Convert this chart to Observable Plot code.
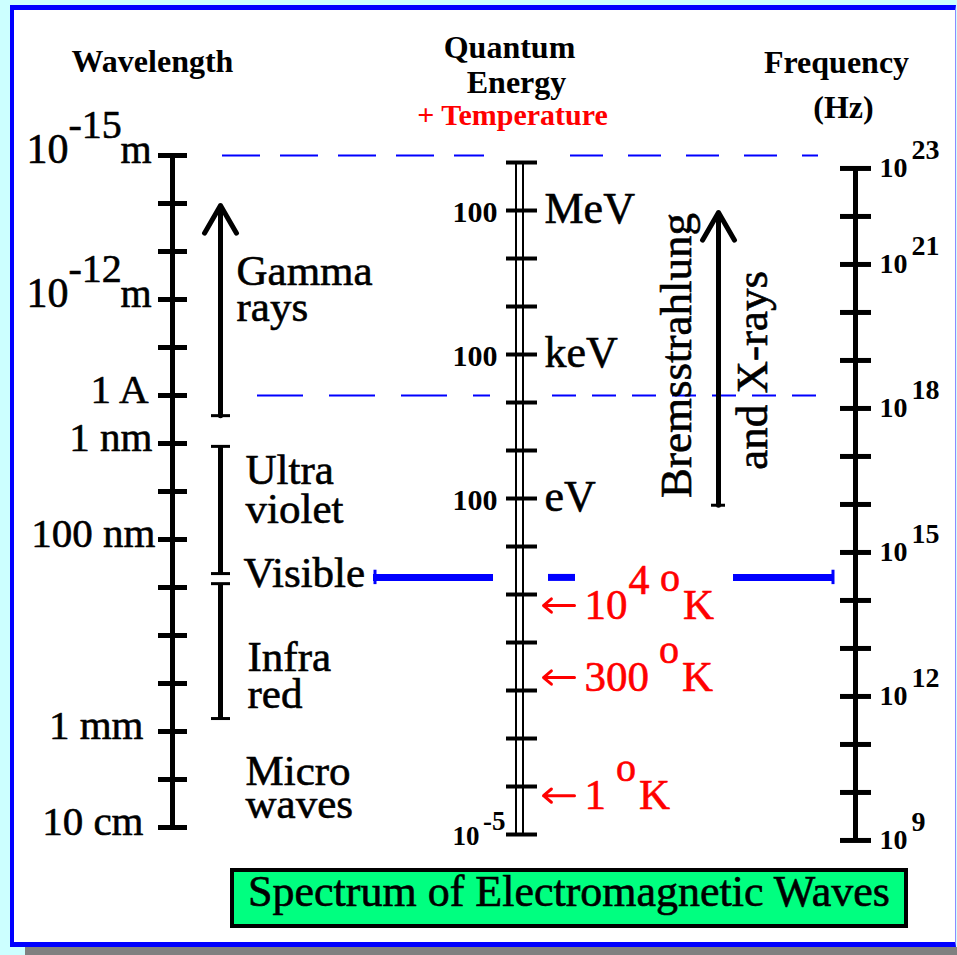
<!DOCTYPE html>
<html><head><meta charset="utf-8">
<script src="https://cdn.jsdelivr.net/npm/d3@7"></script>
<script src="https://cdn.jsdelivr.net/npm/@observablehq/plot@0.6"></script>
<style>
html,body{margin:0;padding:0;background:#ccffff;width:957px;height:955px;overflow:hidden;font-family:"Liberation Serif",serif}
#frame{position:absolute;left:10px;top:5px;width:941px;height:932px;background:#fff;border-top:5px solid #0000ff;border-left:4px solid #0000ff;border-bottom:5px solid #0000ff;border-right:1px solid #8c8cff}
#shadow{position:absolute;left:25px;top:947px;width:932px;height:8px;background:#808080}
#chart{position:absolute;left:0;top:0}
#caption{position:absolute;left:230px;top:868px;width:678px;height:60px;box-sizing:border-box;border:4px solid #000;background:#00ff80;font-size:44px;line-height:40px;text-align:center;color:#000;white-space:nowrap;-webkit-text-stroke:0.6px #000}
</style></head><body>
<div id="frame"></div><div id="shadow"></div><div id="chart"></div>
<div id="caption">Spectrum of Electromagnetic Waves</div>
<script>
// ---------------- data (log10 exponents) ----------------
const waveExp = [-15,-14,-13,-12,-11,-10,-9,-8,-7,-6,-5,-4,-3,-2,-1];      // log10(wavelength / m)
const waveLabelExp = [-10, -9, -7, -3, -1];
const waveLabelText = ["1 A", "1 nm", "100 nm", "1 mm", "10 cm"];
const wavePowerExp = [-15, -12];
const wavePowerSup = ["-15", "-12"];

const energyExp = [9,8,7,6,5,4,3,2,1,0,-1,-2,-3,-4,-5];                  // log10(E / eV)
const energyLabelExp = [8, 5, 2];
const energyLabelUnit = ["MeV", "keV", "eV"];
const energyBottomExp = [-5];

const freqExp = [23,22,21,20,19,18,17,16,15,14,13,12,11,10,9];           // log10(f / Hz)
const freqLabelExp = [23, 21, 18, 15, 12, 9];

const tempEnergyExp = [-0.23, -1.73, -4.19];                             // where the temperature arrows point
const tempValue = ["10", "300", "1"];
const tempPower = ["4", "", ""];

const bandLabel = ["Gamma\nrays", "Ultra\nviolet", "Visible", "Infra\nred", "Micro\nwaves"];
const bandLabelExp = [-11.56, -7.35, -6.02, -3.5, -1.19];                // baseline of last line
const gammaExp = [-9.58, -13.96];          // bar bottom, arrow tip
const barFrom = [-8.94, -6.08];            // ultraviolet, infrared
const barTo = [-6.29, -3.27];
const visibleExp = -6.21;
const guideExp = [-15, -10];
const bremsEnergyExp = [1.86, 7.96];       // bremsstrahlung arrow (bottom, tip)

// ---------------- layout ----------------
const WX = 172, EX = 519, FX = 855, BARX = 220, BREMX = 718;
const eToV = e => -5.854 - e;   // energy exponent -> common vertical position
const fToV = f => 8.27 - f;     // frequency exponent -> common vertical position
const BLUE = "#0000ff", RED = "#ff0000";
const bandX = [236, 245, 243, 247, 245];
const bandLH = [0.82, 0.9, 1, 0.86, 0.78];
const waveLabelEnd = [148, 152, 155, 143, 143];
const heavy = c => ({fill: c, stroke: c, strokeWidth: 0.6, paintOrder: "stroke"});

const header = (t, x, base, o = {}) => Plot.text([t], {x, frameAnchor: "top", dy: base, lineAnchor: "bottom",
  text: d => d, fontWeight: "bold", fontSize: 32, textAnchor: "middle", fill: "black", ...o});

const tW = 21.5; // digit advance at 43px
const tempX = i => 584;
const tempPowX = i => 584 + tempValue[i].length * tW + 1;
const tempOX = i => 584 + tempValue[i].length * tW + (tempPower[i] ? tW + 1 : 0) + 10;
const tempKX = i => tempOX(i) + 23;
const idx = tempValue.map((_, i) => i);

const bandMarks = bandLabel.map((t, i) => Plot.text([t], {x: bandX[i], y: bandLabelExp[i], text: d => d,
  textAnchor: "start", lineAnchor: "bottom", lineHeight: bandLH[i], fontSize: 43, ...heavy("black")}));

const chart = Plot.plot({
  width: 957, height: 862, margin: 0,
  style: {background: "transparent", fontFamily: "Liberation Serif", overflow: "visible"},
  x: {domain: [0, 957], range: [0, 957], axis: null},
  y: {domain: [-15, -1], range: [155, 827], axis: null},
  marks: [
    // dashed guide lines
    Plot.ruleY([guideExp[0]], {x1: 222, x2: 484, stroke: BLUE, strokeWidth: 2, strokeDasharray: "38,20"}),
    Plot.ruleY([guideExp[0]], {x1: 570, x2: 818, stroke: BLUE, strokeWidth: 2, strokeDasharray: "33,25"}),
    Plot.ruleY([guideExp[1]], {x1: 257, x2: 490, stroke: BLUE, strokeWidth: 2, strokeDasharray: "46,26"}),
    Plot.ruleY([guideExp[1]], {x1: 552, x2: 830, stroke: BLUE, strokeWidth: 2, strokeDasharray: "24,16"}),
    // visible line
    Plot.ruleY([[373,493],[548,575],[733,833]], {y: visibleExp, x1: d => d[0], x2: d => d[1], stroke: BLUE, strokeWidth: 7}),
    Plot.ruleX([374.5, 832.5], {y1: visibleExp - 0.15, y2: visibleExp + 0.15, stroke: BLUE, strokeWidth: 3}),

    // wavelength axis
    Plot.ruleX([WX], {y1: waveExp[0], y2: waveExp[waveExp.length - 1], strokeWidth: 5}),
    Plot.ruleY(waveExp, {y: d => d, x1: WX - 14, x2: WX + 15, strokeWidth: 5}),
    Plot.text(waveLabelExp, {y: d => d, x: (d, i) => waveLabelEnd[i], text: (d, i) => waveLabelText[i], textAnchor: "end", lineAnchor: "bottom", dy: 7, fontSize: 41, ...heavy("black")}),
    Plot.text(wavePowerExp, {y: d => d, x: 26, text: () => "10", textAnchor: "start", lineAnchor: "bottom", dy: 7, fontSize: 42, ...heavy("black")}),
    Plot.text(wavePowerExp, {y: d => d, x: 68, text: (d, i) => wavePowerSup[i], textAnchor: "start", lineAnchor: "bottom", dy: -18, fontSize: 40, ...heavy("black")}),
    Plot.text(wavePowerExp, {y: d => d, x: 120, text: () => "m", textAnchor: "start", lineAnchor: "bottom", dy: 7, fontSize: 40, ...heavy("black")}),

    // band bars and labels
    Plot.arrow([0], {x1: BARX, x2: BARX, y1: gammaExp[0], y2: gammaExp[1], strokeWidth: 5, headLength: 9.6, stroke: "black"}),
    Plot.ruleY([gammaExp[0]], {x1: BARX - 9, x2: BARX + 10, strokeWidth: 3}),
    Plot.ruleX(barFrom, {x: BARX, y1: d => d, y2: (d, i) => barTo[i], strokeWidth: 5}),
    Plot.ruleY(barFrom.concat(barTo), {y: d => d, x1: BARX - 9, x2: BARX + 10, strokeWidth: 3}),
    ...bandMarks,

    // energy axis (double line)
    Plot.ruleX([EX - 3.5, EX + 3.5], {y1: eToV(energyExp[0]), y2: eToV(energyExp[energyExp.length - 1]), strokeWidth: 2}),
    Plot.ruleY(energyExp, {y: eToV, x1: EX - 13, x2: EX + 18, strokeWidth: 4}),
    Plot.text(energyLabelExp, {y: eToV, x: EX - 22, text: () => "100", textAnchor: "end", lineAnchor: "bottom", dy: 11, fontSize: 30, fontWeight: "bold", fill: "black"}),
    Plot.text(energyLabelExp, {y: eToV, x: EX + 25, text: (d, i) => energyLabelUnit[i], textAnchor: "start", lineAnchor: "bottom", dy: 12, fontSize: 44, ...heavy("black")}),
    Plot.text(energyBottomExp, {y: eToV, x: EX - 40, text: () => "10", textAnchor: "end", lineAnchor: "bottom", dy: 10, fontSize: 27, fontWeight: "bold", fill: "black"}),
    Plot.text(energyBottomExp, {y: eToV, x: EX - 14, text: () => "-5", textAnchor: "end", lineAnchor: "bottom", dy: -5, fontSize: 27, fontWeight: "bold", fill: "black"}),

    // temperatures
    Plot.arrow(tempEnergyExp, {y1: eToV, y2: eToV, x1: EX + 55, x2: EX + 24, stroke: RED, strokeWidth: 3, headLength: 6, headAngle: 80}),
    Plot.text(idx, {y: i => eToV(tempEnergyExp[i]), x: tempX, text: i => tempValue[i], textAnchor: "start", lineAnchor: "bottom", dy: 13, fontSize: 43, ...heavy(RED)}),
    Plot.text(idx, {y: i => eToV(tempEnergyExp[i]), x: tempPowX, text: i => tempPower[i], textAnchor: "start", lineAnchor: "bottom", dy: -12, fontSize: 42, ...heavy(RED)}),
    Plot.text(idx, {y: i => eToV(tempEnergyExp[i]), x: tempOX, text: () => "o", textAnchor: "start", lineAnchor: "bottom", dy: -15, fontSize: 40, ...heavy(RED)}),
    Plot.text(idx, {y: i => eToV(tempEnergyExp[i]), x: tempKX, text: () => "K", textAnchor: "start", lineAnchor: "bottom", dy: 13, fontSize: 43, ...heavy(RED)}),

    // bremsstrahlung
    Plot.arrow([0], {x1: BREMX, x2: BREMX, y1: eToV(bremsEnergyExp[0]), y2: eToV(bremsEnergyExp[1]), strokeWidth: 5, headLength: 9.6, stroke: "black"}),
    Plot.ruleY([eToV(bremsEnergyExp[0])], {x1: BREMX - 7, x2: BREMX + 7, strokeWidth: 3}),
    Plot.text(["Bremsstrahlung"], {x: 690, y: eToV(4.98), rotate: -90, text: d => d, textAnchor: "middle", lineAnchor: "bottom", fontSize: 45, ...heavy("black")}),
    Plot.text(["and X-rays"], {x: 766, y: eToV(4.67), rotate: -90, text: d => d, textAnchor: "middle", lineAnchor: "bottom", fontSize: 45, ...heavy("black")}),

    // frequency axis
    Plot.ruleX([FX], {y1: fToV(freqExp[0]), y2: fToV(freqExp[freqExp.length - 1]), strokeWidth: 5}),
    Plot.ruleY(freqExp, {y: fToV, x1: FX - 15, x2: FX + 16, strokeWidth: 5}),
    Plot.text(freqLabelExp, {y: fToV, x: FX + 24, text: () => "10", textAnchor: "start", lineAnchor: "bottom", dy: 9, fontSize: 28, fontWeight: "bold", fill: "black"}),
    Plot.text(freqLabelExp, {y: fToV, x: FX + 56, text: d => String(d), textAnchor: "start", lineAnchor: "bottom", dy: -9, fontSize: 28, fontWeight: "bold", fill: "black"}),

    // headers
    header("Wavelength", 152, 71),
    header("Quantum", 509, 57),
    header("Energy", 516, 92),
    header("+ Temperature", 512, 124, {fill: RED, fontSize: 30}),
    header("Frequency", 836, 72),
    header("(Hz)", 843, 117)
  ]
});
document.getElementById("chart").appendChild(chart);
</script></body></html>
